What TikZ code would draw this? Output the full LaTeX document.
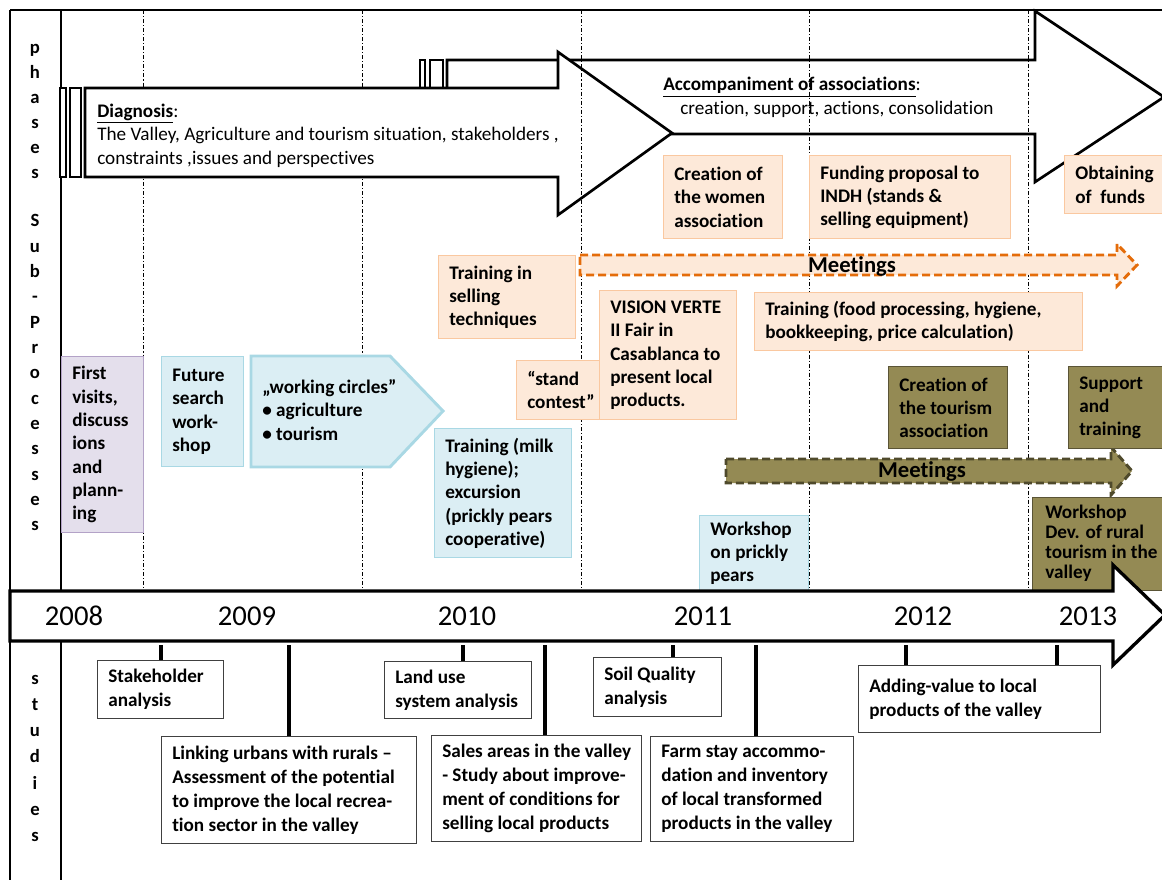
\documentclass[tikz,border=0pt]{standalone}
\usepackage{fontspec}
\setmainfont{Carlito}[Ligatures={NoCommon}]
\definecolor{orFill}{HTML}{FDE9D9}
\definecolor{orLine}{HTML}{FAC8A0}
\definecolor{orDash}{HTML}{E46C0A}
\definecolor{blFill}{HTML}{DBEEF4}
\definecolor{blLine}{HTML}{A9D8E4}
\definecolor{puFill}{HTML}{E4DFEC}
\definecolor{puLine}{HTML}{B3A2C7}
\definecolor{olFill}{HTML}{948A54}
\definecolor{olLine}{HTML}{5A5436}
\definecolor{olDash}{HTML}{4F4A2C}
\definecolor{stLine}{HTML}{404040}

\begin{document}
\begin{tikzpicture}[x=0.75pt, y=-0.75pt,
    frame/.style = {line width=1.6pt},
    yearline/.style = {line width=0.6pt, dash pattern=on 3pt off 1.5pt on 0.8pt off 1.5pt},
    phase/.style = {draw, line width=2pt, fill=white, line join=miter},
    cell/.style = {draw, line width=1.1pt, anchor=north west, inner sep=0pt},
    sz/.style 2 args = {minimum width=#1*0.75pt, minimum height=#2*0.75pt},
    obox/.style = {cell, draw=orLine, fill=orFill},
    bbox/.style = {cell, draw=blLine, fill=blFill},
    pbox/.style = {cell, draw=puLine, fill=puFill},
    gbox/.style = {cell, draw=olLine, fill=olFill},
    stbox/.style = {cell, line width=0.9pt, draw=stLine, fill=white},
    btxt/.style = {anchor=west, align=left, inner sep=0pt, xshift=8.25pt,
                   font=\fontsize{14.4}{17.5}\selectfont\bfseries},
    sttxt/.style = {btxt, font=\fontsize{14.4}{18}\selectfont\bfseries},
    ptxt/.style = {anchor=west, align=left, inner sep=0pt, font=\fontsize{14.4}{17.5}\selectfont},
    side/.style = {anchor=base, inner sep=0pt, font=\fontsize{14}{16}\selectfont\bfseries},
    year/.style = {inner sep=0pt, font=\fontsize{21.5}{24}\selectfont},
    meet/.style = {inner sep=0pt, font=\fontsize{17}{20}\selectfont\bfseries},
    conn/.style = {line width=3pt}]

  \useasboundingbox (0,0) rectangle (1162,880);
  \clip (0,0) rectangle (1162,880);

  % frame
  \draw[frame] (10,10) -- (1162,10);
  \draw[frame] (10,10) -- (10,880);
  \draw[frame] (61,10) -- (61,880);

  \foreach \gx in {143,362}
    \draw[yearline] (\gx,10) -- (\gx,590);

  % phases
  \draw[phase] (447,60) -- (1035,60) -- (1035,11) -- (1164,97) -- (1035,182) -- (1035,134) -- (447,134) -- cycle;
  \draw[phase] (420,60) rectangle (425,134);
  \draw[phase] (430,60) rectangle (443,134);
  \draw[phase] (85,88) -- (558,88) -- (558,52) -- (672,133) -- (558,215) -- (558,177) -- (85,177) -- cycle;
  \draw[phase] (60,88) rectangle (66,177);
  \draw[phase] (70,88) rectangle (81,177);

  \foreach \gx in {581,809,1028}
    \draw[yearline] (\gx,10) -- (\gx,590);

  \node[ptxt] (diag) at (97,135.5) {\textbf{\underline{Diagnosis}}:\\
    The Valley, Agriculture and tourism situation, stakeholders ,\\
    constraints ,issues and perspectives};
  \node[ptxt] (accomp) at (663,87) {\textbf{\underline{Accompaniment of associations}}:};
  \node[ptxt] (accomp-b) at (680,109) {creation, support, actions, consolidation};

  % meetings
  \draw[dashed, line width=2.2pt, draw=orDash, fill=orFill, dash pattern=on 6pt off 3pt]
    (580,255) -- (1117,255) -- (1117,244) -- (1137,265) -- (1117,286) -- (1117,275) -- (580,275) -- cycle;
  \node[meet] (meet-a) at (852,266) {Meetings};
  \draw[dashed, line width=2.2pt, draw=olDash, fill=olFill, dash pattern=on 6pt off 3pt]
    (726,459) -- (1111,459) -- (1111,447) -- (1132,471) -- (1111,495) -- (1111,483) -- (726,483) -- cycle;
  \node[meet] (meet-b) at (922,471) {Meetings};

  % sub-processes
  \node[pbox, sz={82}{176}] (visits) at (61,356) {};
  \node[btxt] (visits-t) at (visits.west) {First\\visits,\\discuss\\ions\\and\\plann-\\ing};
  \node[bbox, sz={82}{110}] (search) at (161,356) {};
  \node[btxt] (search-t) at (search.west) {Future\\search\\work-\\shop};
  \draw[line width=2.2pt, draw=blLine, fill=blFill] (251,356) -- (390,356) -- (443,411) -- (390,467) -- (251,467) -- cycle;
  \node[btxt, xshift=-1.5pt] (circles) at (253,410) {„working circles”\\• agriculture\\• tourism};
  \node[bbox, sz={137}{129}] (milk) at (434,428) {};
  \node[btxt] (milk-t) at (milk.west) {Training (milk\\hygiene);\\excursion\\(prickly pears\\cooperative)};
  \node[bbox, sz={109}{78}] (pears) at (699,515) {};
  \node[btxt] (pears-t) at ([yshift=1pt]pears.west) {Workshop\\on prickly\\pears};

  \node[obox, sz={119}{83}] (women) at (663,155) {};
  \node[btxt] (women-t) at (women.west) {Creation of\\the women\\association};
  \node[obox, sz={201}{83}] (funding) at (809,155) {};
  \node[btxt] (funding-t) at (funding.west) {Funding proposal to\\INDH (stands \&\\selling equipment)};
  \node[obox, sz={110}{58}] (funds) at (1064,155) {};
  \node[btxt] (funds-t) at (funds.west) {Obtaining\\of~ funds};
  \node[obox, sz={137}{83}] (selling) at (438,255) {};
  \node[btxt] (selling-t) at (selling.west) {Training in\\selling\\techniques};
  \node[obox, sz={101}{59}] (contest) at (516,360) {};
  \node[btxt] (contest-t) at (contest.west) {“stand\\contest”};
  \node[obox, sz={137}{129}] (vision) at (599,290) {};
  \node[btxt] (vision-t) at (vision.west) {VISION VERTE\\II Fair in\\Casablanca to\\present local\\products.};
  \node[obox, sz={328}{58}] (food) at (754,292) {};
  \node[btxt] (food-t) at (food.west) {Training (food processing, hygiene,\\bookkeeping, price calculation)};

  \node[gbox, sz={119}{82}] (tourassoc) at (888,366) {};
  \node[btxt] (tourassoc-t) at (tourassoc.west) {Creation of\\the tourism\\association};
  \node[gbox, sz={110}{82}] (support) at (1068,366) {};
  \node[btxt] (support-t) at (support.west) {Support\\and\\training};
  \node[gbox, sz={140}{93}] (ruraldev) at (1032,497) {};
  \node[btxt, xshift=1.5pt, font=\fontsize{14.4}{15}\selectfont\bfseries] (ruraldev-t) at ([yshift=1pt]ruraldev.west)
    {Workshop\\Dev. of rural\\tourism in the\\valley};

  % time line
  \draw[phase, line width=2.5pt] (10,591) -- (1113,591) -- (1113,565) -- (1165,615) -- (1113,665) -- (1113,641) -- (10,641) -- cycle;
  \foreach \yr/\xp in {2008/74, 2009/247, 2010/467, 2011/703, 2012/923, 2013/1088}
    \node[year] (y\yr) at (\xp,616) {\yr};
  \coordinate (tlb) at (0,645);

  % studies
  \node[stbox, sz={126}{58}] (stake) at (97,660) {};
  \node[sttxt] (stake-t) at (stake.west) {Stakeholder\\analysis};
  \node[stbox, sz={255}{107}] (linking) at (161,736) {};
  \node[sttxt] (linking-t) at (linking.west) {Linking urbans with rurals --\\Assessment of the potential\\to improve the local recrea-\\tion sector in the valley};
  \node[stbox, sz={147}{57}] (landuse) at (384,661) {};
  \node[sttxt] (landuse-t) at (landuse.west) {Land use\\system analysis};
  \node[stbox, sz={210}{106}] (sales) at (431,735) {};
  \node[sttxt] (sales-t) at (sales.west) {Sales areas in the valley\\- Study about improve-\\ment of conditions for\\selling local products};
  \node[stbox, sz={128}{59}] (soil) at (593,657) {};
  \node[sttxt] (soil-t) at (soil.west) {Soil Quality\\analysis};
  \node[stbox, sz={203}{105}] (farm) at (650,736) {};
  \node[sttxt] (farm-t) at (farm.west) {Farm stay accommo-\\dation and inventory\\of local transformed\\products in the valley};
  \node[stbox, sz={242}{67}] (adding) at (858,665) {};
  \node[sttxt] (adding-t) at (adding.west) {Adding-value to local\\products of the valley};

  \draw[conn] (stake.north) -- (stake.north |- tlb);
  \draw[conn] (linking.north) -- (linking.north |- tlb);
  \draw[conn] ([xshift=3.4pt]landuse.north) -- ([xshift=3.4pt]landuse.north |- tlb);
  \draw[conn] ([xshift=6pt]sales.north) -- ([xshift=6pt]sales.north |- tlb);
  \draw[conn] ([xshift=11.25pt]soil.north) -- ([xshift=11.25pt]soil.north |- tlb);
  \draw[conn] ([xshift=2.6pt]farm.north) -- ([xshift=2.6pt]farm.north |- tlb);
  \draw[conn] ([xshift=-55.5pt]adding.north) -- ([xshift=-55.5pt]adding.north |- tlb);
  \draw[conn] ([xshift=57.75pt]adding.north) -- ([xshift=57.75pt]adding.north |- tlb);

  % side labels
  \foreach \ch [count=\i] in {p,h,a,s,e,s}
    \node[side] (ph\i) at (35,29+25*\i) {\ch};
  \foreach \ch [count=\i] in {S,u,b,-,P,r,o,c,e,s,s,e,s}
    \node[side] (sp\i) at (35,201.7+25.3*\i) {\ch};
  \foreach \ch [count=\i] in {s,t,u,d,i,e,s}
    \node[side] (st\i) at (35,657.7+26.3*\i) {\ch};

\end{tikzpicture}
\end{document}
